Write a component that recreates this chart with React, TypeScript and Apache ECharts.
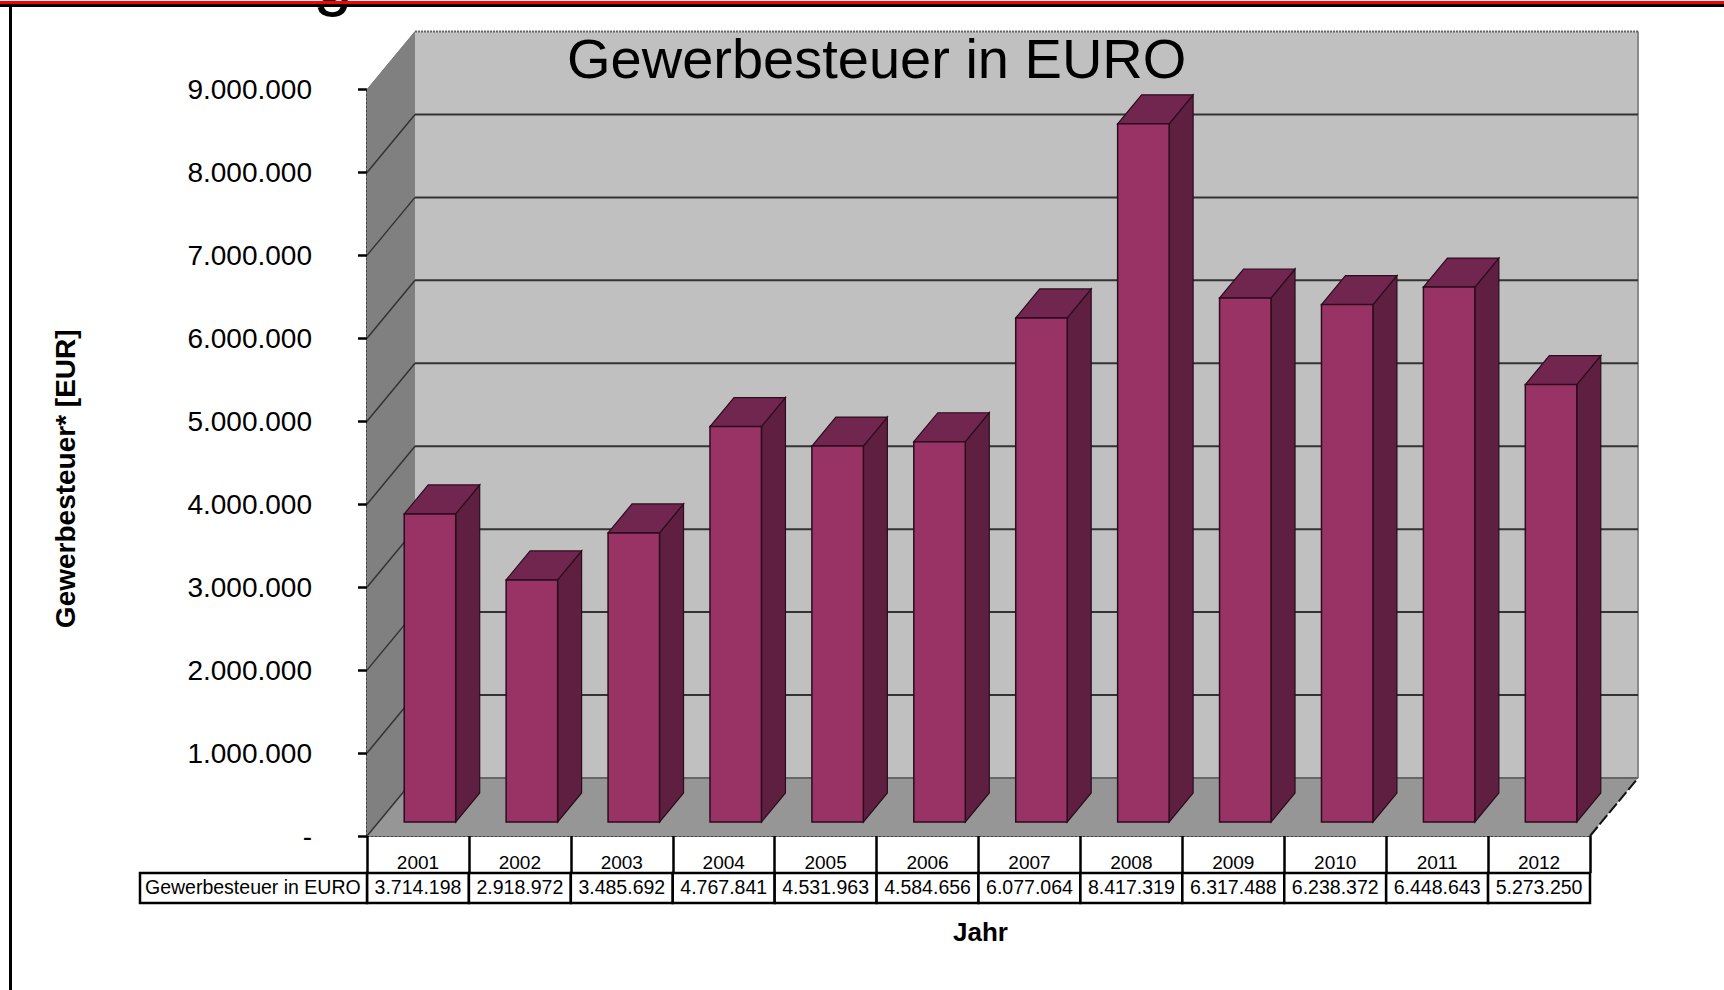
import React, { useEffect, useRef } from "react";
import * as echarts from "echarts";

const chartTitle = "Gewerbesteuer in EURO";
const yAxisName = "Gewerbesteuer* [EUR]";
const xAxisName = "Jahr";
const rowName = "Gewerbesteuer in EURO";
const years = ["2001", "2002", "2003", "2004", "2005", "2006", "2007", "2008", "2009", "2010", "2011", "2012"];
const taxValues = [3714198, 2918972, 3485692, 4767841, 4531963, 4584656, 6077064, 8417319, 6317488, 6238372, 6448643, 5273250];
const gridValues = [0, 1000000, 2000000, 3000000, 4000000, 5000000, 6000000, 7000000, 8000000, 9000000];

const FONT = "Liberation Sans";
const DEPTH_X = 48;
const DEPTH_Y = 58;
const BAR_DX = 24;
const BAR_DY = 29;
const BAR_SHIFT_X = 12;
const BAR_SHIFT_Y = 14;
const ROW_TOP = 37;
const ROW_H = 30;

const formatDE = (v: number) => (v === 0 ? "-" : String(v).replace(/\B(?=(\d{3})+$)/g, "."));

export default function App() {
  const ref = useRef<HTMLDivElement>(null);
  useEffect(() => {
    document.body.style.margin = "0";
    document.body.style.overflow = "hidden";
    const chart = echarts.init(ref.current!, undefined, { renderer: "svg" });
    const poly = (points: number[][], fill: string, stroke?: string, lineWidth = 1) => ({
      type: "polygon",
      shape: { points },
      style: { fill, stroke: stroke ?? "none", lineWidth },
    });
    const line = (a: number[], b: number[], stroke: string, lineWidth = 2, lineDash?: number[]) => ({
      type: "line",
      shape: { x1: a[0], y1: a[1], x2: b[0], y2: b[1] },
      style: { stroke, lineWidth, lineDash },
    });

    chart.setOption({
      animation: false,
      backgroundColor: "#ffffff",
      title: {
        text: chartTitle,
        left: 562,
        top: 25,
        textStyle: { fontFamily: FONT, fontSize: 56, fontWeight: "normal", color: "#000" },
      },
      grid: { left: 367, top: 89.5, width: 1223, height: 746.5 },
      xAxis: {
        type: "category",
        data: years,
        name: xAxisName,
        nameLocation: "middle",
        nameGap: 83,
        nameTextStyle: { fontFamily: FONT, fontSize: 26, fontWeight: "bold", color: "#000", padding: [0, 0, 0, 4] },
        axisLine: { show: true, lineStyle: { color: "#444", width: 2, type: "dotted" } },
        axisTick: { show: true, length: 37, lineStyle: { color: "#000", width: 2.5 } },
        axisLabel: { fontFamily: FONT, fontSize: 19, color: "#000", margin: 17 },
        splitLine: { show: false },
      },
      yAxis: {
        type: "value",
        min: 0,
        max: 9000000,
        interval: 1000000,
        name: yAxisName,
        nameLocation: "middle",
        nameGap: 288,
        nameTextStyle: { fontFamily: FONT, fontSize: 28, fontWeight: "bold", color: "#000", padding: [0, 32, 0, 0] },
        axisLine: { show: true, lineStyle: { color: "#444", width: 2, type: "dotted" } },
        axisTick: { show: true, length: 9, lineStyle: { color: "#000", width: 2.5 } },
        axisLabel: { fontFamily: FONT, fontSize: 28, color: "#000", margin: 55, padding: [8, 0, 0, 0], formatter: formatDE },
        splitLine: { show: false },
      },
      series: [
        {
          // walls and floor of the 3D box
          type: "custom",
          z: 1,
          clip: false,
          silent: true,
          data: [[0, 0]],
          renderItem: (params: any, api: any) => {
            const c = params.coordSys;
            const y0 = api.coord([0, 0])[1];
            const yMax = api.coord([0, 9000000])[1];
            const x0 = c.x;
            const x1 = c.x + c.width;
            return {
              type: "group",
              children: [
                poly([[x0 + DEPTH_X, yMax - DEPTH_Y], [x1 + DEPTH_X, yMax - DEPTH_Y], [x1 + DEPTH_X, y0 - DEPTH_Y], [x0 + DEPTH_X, y0 - DEPTH_Y]], "#c0c0c0"),
                poly([[x0, yMax], [x0 + DEPTH_X, yMax - DEPTH_Y], [x0 + DEPTH_X, y0 - DEPTH_Y], [x0, y0]], "#808080"),
                poly([[x0, y0], [x0 + DEPTH_X, y0 - DEPTH_Y], [x1 + DEPTH_X, y0 - DEPTH_Y], [x1, y0]], "#969696"),
                line([x1 + DEPTH_X, yMax - DEPTH_Y], [x1 + DEPTH_X, y0 - DEPTH_Y], "#8a8a8a", 2),
                line([x1, y0], [x1 + DEPTH_X, y0 - DEPTH_Y], "#111", 2, [12, 3]),
              ],
            };
          },
        },
        {
          // gridlines on the back and side walls
          type: "custom",
          z: 2,
          clip: false,
          silent: true,
          data: gridValues.map((v) => [0, v]),
          renderItem: (params: any, api: any) => {
            const c = params.coordSys;
            const v = api.value(1);
            const y = api.coord([0, v])[1];
            const isTop = v === 9000000;
            const isBottom = v === 0;
            const colour = isTop ? "#666" : isBottom ? "#666" : "#333";
            return {
              type: "group",
              children: [
                line([c.x, y], [c.x + DEPTH_X, y - DEPTH_Y], isTop ? "#777" : "#333", isTop ? 1 : 1.5),
                line([c.x + DEPTH_X, y - DEPTH_Y], [c.x + c.width + DEPTH_X, y - DEPTH_Y], colour, 2, isTop ? [2, 1] : undefined),
              ],
            };
          },
        },
        {
          // 3D bars
          type: "custom",
          z: 3,
          clip: false,
          silent: true,
          data: taxValues.map((v, i) => [i, v]),
          encode: { x: 0, y: 1 },
          renderItem: (_params: any, api: any) => {
            const top = api.coord([api.value(0), api.value(1)]);
            const base = api.coord([api.value(0), 0]);
            const w = api.size([1, 0])[0] * 0.505;
            const l = top[0] - w / 2 + BAR_SHIFT_X;
            const r = l + w;
            const t = top[1] - BAR_SHIFT_Y;
            const b = base[1] - BAR_SHIFT_Y;
            const edge = "#2b0d1e";
            return {
              type: "group",
              children: [
                poly([[r, t], [r + BAR_DX, t - BAR_DY], [r + BAR_DX, b - BAR_DY], [r, b]], "#5f1f40", edge, 1.2),
                poly([[l, t], [l + BAR_DX, t - BAR_DY], [r + BAR_DX, t - BAR_DY], [r, t]], "#70264f", edge, 1.2),
                poly([[l, t], [r, t], [r, b], [l, b]], "#993366", edge, 1.5),
              ],
            };
          },
        },
        {
          // second row of the data table
          type: "custom",
          z: 4,
          clip: false,
          silent: true,
          data: taxValues.map((v, i) => [i, v]),
          renderItem: (_params: any, api: any) => {
            const cx = api.coord([api.value(0), 0]);
            const w = api.size([1, 0])[0];
            return {
              type: "group",
              children: [
                {
                  type: "rect",
                  shape: { x: cx[0] - w / 2, y: cx[1] + ROW_TOP, width: w, height: ROW_H },
                  style: { fill: "#fff", stroke: "#000", lineWidth: 2.5 },
                },
                {
                  type: "text",
                  x: cx[0],
                  y: cx[1] + ROW_TOP + ROW_H / 2 - 1,
                  style: {
                    text: formatDE(api.value(1)),
                    fontFamily: FONT,
                    fontSize: 19.5,
                    fill: "#000",
                    align: "center",
                    verticalAlign: "middle",
                  },
                },
              ],
            };
          },
        },
      ],
      graphic: [
        {
          type: "text",
          x: 313,
          y: -58,
          z: 5,
          style: { text: "g", fontFamily: FONT, fontSize: 71, fill: "#000" },
        },
        { type: "rect", z: 6, shape: { x: 0, y: 1, width: 1724, height: 3 }, style: { fill: "#ff0000" } },
        { type: "rect", z: 6, shape: { x: 0, y: 4, width: 1724, height: 3 }, style: { fill: "#000" } },
        { type: "rect", z: 6, shape: { x: 9, y: 6, width: 3, height: 984 }, style: { fill: "#000" } },
        {
          type: "rect",
          z: 6,
          shape: { x: 140, y: 873, width: 227, height: 30 },
          style: { fill: "#fff", stroke: "#000", lineWidth: 2.5 },
        },
        {
          type: "text",
          x: 145,
          y: 887,
          z: 7,
          style: { text: rowName, fontFamily: FONT, fontSize: 19.5, fill: "#000", verticalAlign: "middle" },
        },
      ],
    });
    return () => chart.dispose();
  }, []);
  return <div ref={ref} style={{ width: 1724, height: 990 }} />;
}
